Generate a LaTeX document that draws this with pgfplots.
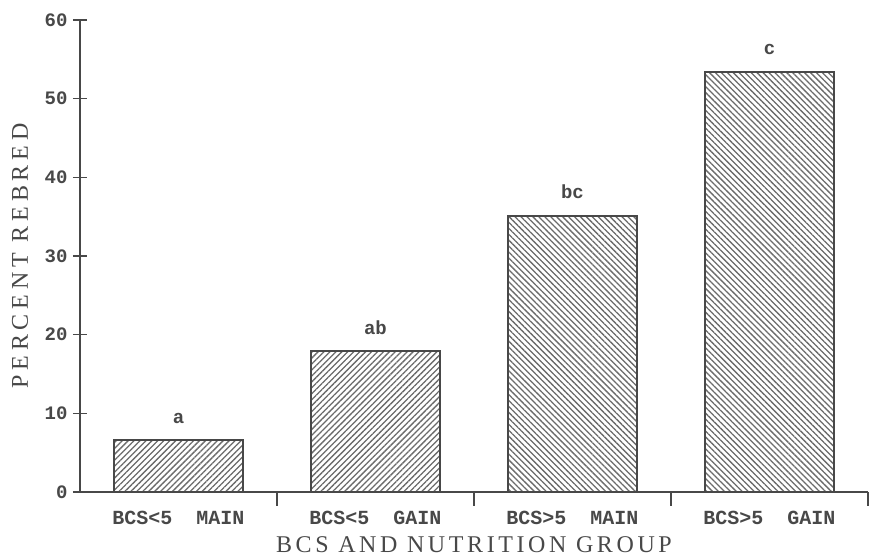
\documentclass[border=0pt]{standalone}
\usepackage{fontspec}
\setmainfont{Liberation Serif}
\newfontfamily\monob{Liberation Mono}[BoldFont={Liberation Mono Bold}]
\newfontfamily\ylabfont{Liberation Serif}[LetterSpace=20]
\newfontfamily\xlabfont{Liberation Serif}[LetterSpace=15]
\usepackage{pgfplots}
\pgfplotsset{compat=1.18}
\usetikzlibrary{patterns.meta}
\definecolor{ink}{HTML}{484848}
\definecolor{hatch}{HTML}{6A6A6A}
\begin{document}
\begin{tikzpicture}
\useasboundingbox (-80pt,-65pt) rectangle (791pt,492pt);
\begin{axis}[
  at={(0,0)}, anchor=south west,
  scale only axis, width=788pt, height=472pt,
  xmin=0, xmax=4, ymin=0, ymax=60,
  axis x line=bottom, axis y line=left,
  axis line style={ink, line width=1.8pt, -},
  every tick/.style={ink, line width=1.6pt},
  tick align=center,
  major tick length=14pt, minor tick length=14pt,
  /pgf/number format/assume math mode=true,
  ytick={0,10,...,60},
  xtick={0.5,1.5,2.5,3.5},
  xticklabels={BCS<5\ \ MAIN, BCS<5\ \ GAIN, BCS>5\ \ MAIN, BCS>5\ \ GAIN},
  minor xtick={1,2,3,4},
  major x tick style={draw=none},
  ticklabel style={text=ink},
  yticklabel style={font=\monob\bfseries\fontsize{19}{20}\selectfont, xshift=-2pt},
  xticklabel style={font=\monob\fontsize{20}{22}\selectfont\bfseries, yshift=-2pt},
  xlabel={BCS AND NUTRITION GROUP},
  ylabel={PERCENT REBRED},
  xlabel style={font=\xlabfont\fontsize{24}{26}\selectfont, text=ink, at={(rel axis cs:0.5,-0.1123)}, anchor=center},
  ylabel style={font=\ylabfont\fontsize{24}{26}\selectfont, text=ink, at={(rel axis cs:-0.0761,0.5)}, anchor=center},
  clip=false,
  ybar, bar width=0.655,
  nodes near coords={\pgfplotspointmeta},
  point meta=explicit symbolic,
  every node near coord/.style={anchor=base, yshift=17pt, text=ink, font=\monob\bfseries\fontsize{19}{20}\selectfont},
]
\addplot[bar shift=0pt, draw=ink, line width=1.8pt, pattern={Lines[angle=45,distance=4.2pt,line width=1.3pt]}, pattern color=hatch]
  coordinates {(0.5,6.6) [a] (1.5,17.9) [ab]};
\addplot[bar shift=0pt, draw=ink, line width=1.8pt, pattern={Lines[angle=-45,distance=4.2pt,line width=1.3pt]}, pattern color=hatch]
  coordinates {(2.5,35.1) [bc] (3.5,53.4) [c]};
\end{axis}
\end{tikzpicture}
\end{document}
